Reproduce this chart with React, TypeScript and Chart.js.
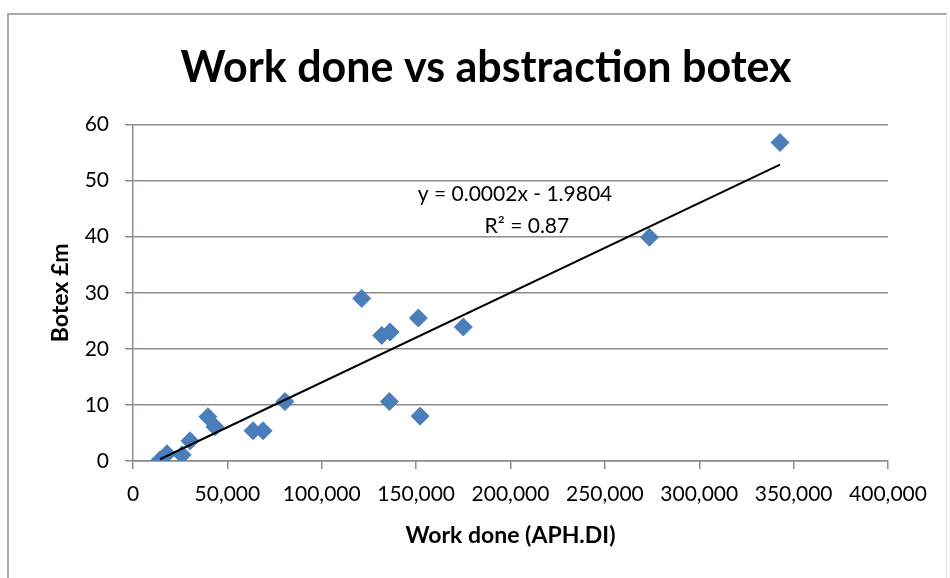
import React, { useEffect, useRef } from "react";
import { Chart, registerables } from "chart.js";

Chart.register(...registerables);

const workDone = [14300, 18000, 26000, 30200, 39700, 43400, 63600, 68900, 80500, 121200, 131800, 136200, 151200, 175000, 135800, 152100, 273600, 342800];
const botex = [0.2, 1.3, 1.1, 3.6, 7.9, 6.1, 5.4, 5.4, 10.6, 29.0, 22.4, 23.0, 25.5, 23.9, 10.6, 8.0, 39.9, 56.8];

const trendSlope = 0.00016;
const trendIntercept = -1.9804;
const equationText = "y = 0.0002x - 1.9804";
const rSquaredText = "R\u00B2 = 0.87";

const xTicks = [0, 50000, 100000, 150000, 200000, 250000, 300000, 350000, 400000];
const yTicks = [0, 10, 20, 30, 40, 50, 60];

const FONT = "Lato, 'Open Sans', sans-serif";

export default function App() {
  const ref = useRef<HTMLCanvasElement | null>(null);

  useEffect(() => {
    if (!ref.current) return;
    const points = workDone.map((x, i) => ({ x, y: botex[i] }));
    const minX = Math.min(...workDone);
    const maxX = Math.max(...workDone);
    const trend = [minX, maxX].map((x) => ({ x, y: trendSlope * x + trendIntercept }));

    const eqPlugin = {
      id: "eqLabel",
      afterDatasetsDraw(chart: any) {
        const { ctx, scales } = chart;
        ctx.save();
        ctx.fillStyle = "#000";
        ctx.font = `21px ${FONT}`;
        ctx.textAlign = "center";
        ctx.textBaseline = "middle";
        ctx.fillText(equationText, scales.x.getPixelForValue(202400), scales.y.getPixelForValue(47.5));
        ctx.fillText(rSquaredText, scales.x.getPixelForValue(208700), scales.y.getPixelForValue(41.8));
        ctx.restore();
      },
    };

    const chart = new Chart(ref.current, {
      type: "scatter",
      data: {
        datasets: [
          {
            label: "Botex",
            data: points,
            pointStyle: "rectRot",
            pointRadius: 9,
            pointBackgroundColor: "#4a7ebb",
            pointBorderColor: "#4a7ebb",
            pointBorderWidth: 1,
            order: 2,
          },
          {
            type: "line",
            label: "Trend",
            data: trend,
            borderColor: "#000",
            borderWidth: 2,
            pointRadius: 0,
            fill: false,
            order: 1,
          } as any,
        ],
      },
      options: {
        animation: false,
        responsive: false,
        layout: { padding: { left: 22, right: 0, top: 0, bottom: 0 } },
        plugins: {
          legend: { display: false },
          tooltip: { enabled: false },
          title: {
            display: true,
            text: "Work done vs abstraction botex",
            color: "#000",
            font: { family: FONT, size: 43, weight: "bold" },
            padding: { top: 42, bottom: 31 },
          },
        },
        scales: {
          x: {
            type: "linear",
            min: 0,
            max: 400000,
            afterBuildTicks: (s: any) => {
              s.ticks = xTicks.map((v) => ({ value: v }));
            },
            afterFit: (s: any) => {
              s.height = 117;
            },
            ticks: {
              color: "#000",
              font: { family: FONT, size: 21 },
              padding: 13,
              maxRotation: 0,
              autoSkip: false,
              callback: (v: any) => Number(v).toLocaleString("en-US"),
            },
            grid: { display: true, drawOnChartArea: false, drawTicks: true, tickLength: 8, color: "#928a8a", lineWidth: 1.5 },
            border: { display: true, color: "#928a8a", width: 1.5 },
            title: {
              display: true,
              text: "Work done (APH.DI)",
              color: "#000",
              font: { family: FONT, size: 23, weight: "bold" },
              padding: { top: 0, bottom: 29 },
            },
          },
          y: {
            type: "linear",
            min: 0,
            max: 60,
            afterBuildTicks: (s: any) => {
              s.ticks = yTicks.map((v) => ({ value: v }));
            },
            afterFit: (s: any) => {
              s.width = 111;
            },
            ticks: {
              color: "#000",
              font: { family: FONT, size: 21 },
              padding: 16,
            },
            grid: { display: true, drawTicks: true, tickLength: 8, color: "#928a8a", lineWidth: 1.5 },
            border: { display: true, color: "#928a8a", width: 1.5 },
            title: {
              display: true,
              text: "Botex \u00A3m",
              color: "#000",
              font: { family: FONT, size: 23, weight: "bold" },
              padding: { top: 25, bottom: 0 },
            },
          },
          yRight: {
            type: "linear",
            position: "right",
            min: 0,
            max: 60,
            afterFit: (s: any) => {
              s.width = 62;
            },
            ticks: { display: false },
            grid: { display: false, drawTicks: false },
            border: { display: false },
          },
        },
      },
      plugins: [eqPlugin],
    });
    return () => chart.destroy();
  }, []);

  return (
    <div style={{ position: "fixed", left: 0, top: 0, width: 950, height: 578, background: "#fff" }}>
      <div
        style={{
          position: "absolute",
          left: 7,
          top: 13,
          width: 940,
          height: 570,
          borderTop: "2px solid #a8a8a8",
          borderLeft: "2px solid #a8a8a8",
          borderRight: "1px solid #e4e4e4",
          boxSizing: "border-box",
        }}
      />
      <canvas ref={ref} width={950} height={578} style={{ position: "absolute", left: 0, top: 0 }} />
    </div>
  );
}
